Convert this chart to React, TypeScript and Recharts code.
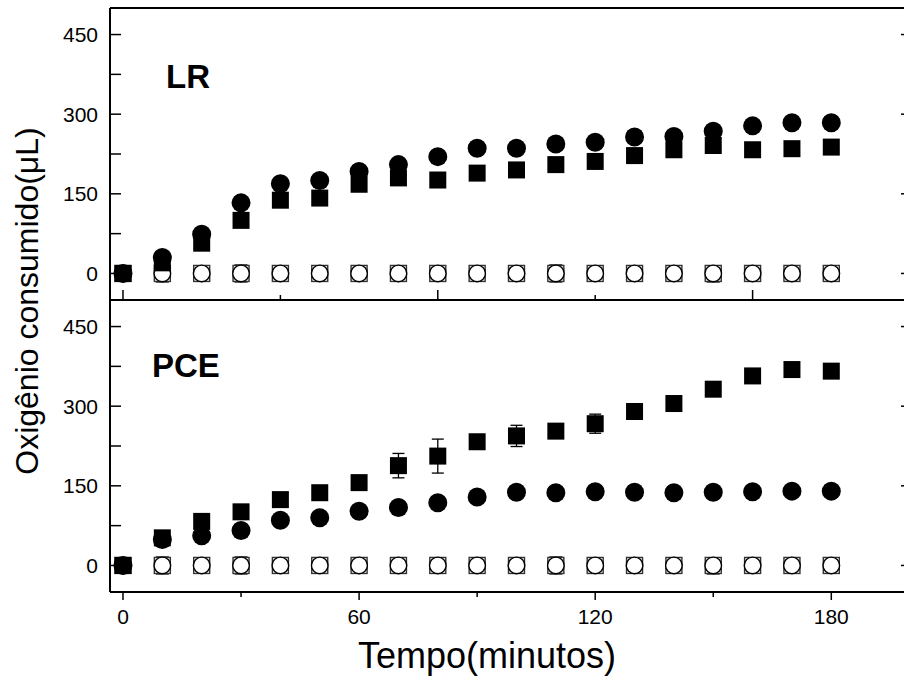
import React from "react";
import { ScatterChart, Scatter, XAxis, YAxis, ErrorBar } from "recharts";

// time points (minutes)
const times = [0, 10, 20, 30, 40, 50, 60, 70, 80, 90, 100, 110, 120, 130, 140, 150, 160, 170, 180];

// LR panel
const lrCircle = [0, 30, 74, 133, 169, 175, 192, 205, 220, 236, 236, 244, 247, 257, 258, 268, 278, 284, 284];
const lrSquare = [0, 20, 57, 100, 138, 142, 168, 180, 176, 189, 195, 205, 211, 222, 233, 241, 233, 235, 238];

// PCE panel
const pceCircle = [0, 49, 56, 66, 85, 90, 102, 109, 118, 129, 138, 137, 139, 138, 137, 138, 139, 140, 140];
const pceSquare = [0, 52, 83, 101, 124, 137, 156, 188, 206, 233, 244, 253, 267, 290, 305, 332, 357, 369, 366];
const pceSquareErr = [0, 0, 0, 0, 0, 0, 0, 23, 32, 12, 20, 0, 18, 0, 0, 0, 0, 0, 0];

// controls (open symbols), same in both panels
const control = [0, 0, 0, 0, 0, 0, 0, 0, 0, 0, 0, 0, 0, 0, 0, 0, 0, 0, 0];
const controlErrUp = [0, 16, 0, 16, 0, 0, 0, 0, 0, 0, 0, 16, 0, 0, 0, 0, 0, 0, 0];
const controlErrDown = [0, 16, 0, 16, 0, 0, 0, 0, 0, 0, 0, 16, 0, 0, 0, 16, 0, 0, 0];

const yTicks = [0, 75, 150, 225, 300, 375, 450];
const yRightTicks = [0, 150, 300, 450];
const xMidTicks = [0, 40, 80, 120, 160];
const xBottomTicks = [0, 30, 60, 90, 120, 150, 180];

const X_DOMAIN: [number, number] = [-3.3, 200];
const Y_DOMAIN: [number, number] = [-50, 500];
const FONT = "'Liberation Sans', Arial, sans-serif";

const CHART_W = 920;
const TOP_H = 310;
const BOTTOM_H = 362;

type Pt = { t: number; v: number; e?: number | [number, number] };

const toPoints = (vals: number[], errs?: number[]): Pt[] =>
  times.map((t, i) => ({
    t,
    v: vals[i],
    e: errs && errs[i] ? errs[i] : undefined,
  }));

const errPoints = (errs: number[], up: boolean): Pt[] =>
  times
    .map((t, i) => ({
      t,
      v: control[i],
      e: (up ? [0, errs[i]] : [errs[i], 0]) as [number, number],
    }))
    .filter((_, i) => errs[i] > 0);

// markers
const FilledCircle = (p: any) => <circle cx={p.cx} cy={p.cy} r={9.5} fill="#000" />;
const FilledSquare = (p: any) => (
  <rect x={p.cx - 8.5} y={p.cy - 8.5} width={17} height={17} fill="#000" />
);
const OpenCircle = (p: any) => (
  <circle cx={p.cx} cy={p.cy} r={8.3} fill="#fff" stroke="#000" strokeWidth={1.4} />
);
const OpenSquare = (p: any) => (
  <rect x={p.cx - 8} y={p.cy - 8} width={16} height={16} fill="#fff" stroke="#333" strokeWidth={1.4} />
);
const NoMark = () => <g />;

// ticks
const LeftTick = (props: any) => {
  const { x, y, payload } = props;
  const ax = x + 12;
  return (
    <g>
      <line x1={ax} x2={ax + 11} y1={y} y2={y} stroke="#000" strokeWidth={1.5} />
      {payload.value % 150 === 0 && (
        <text x={x} y={y} dy="0.36em" textAnchor="end" fontSize={21} fontFamily={FONT} fill="#000">
          {payload.value}
        </text>
      )}
    </g>
  );
};

const RightTick = (props: any) => {
  const { x, y } = props;
  return <line x1={x - 9} x2={x} y1={y} y2={y} stroke="#000" strokeWidth={1.5} />;
};

const TopTick = (props: any) => {
  const { x, y, payload } = props;
  const len = payload.value % 80 === 0 ? 10 : 5;
  return <line x1={x} x2={x} y1={y} y2={y + len} stroke="#000" strokeWidth={1.5} />;
};

const MidTick = (props: any) => {
  const { x, y, payload } = props;
  const len = payload.value % 80 === 0 ? 10 : 5;
  return <line x1={x} x2={x} y1={y} y2={y - len} stroke="#000" strokeWidth={1.5} />;
};

const BottomTick = (props: any) => {
  const { x, y, payload } = props;
  const major = payload.value % 60 === 0;
  return (
    <g>
      <line x1={x} x2={x} y1={y} y2={y + (major ? 8 : 5)} stroke="#000" strokeWidth={1.5} />
      {major && (
        <text x={x} y={y + 24} dy="0.36em" textAnchor="middle" fontSize={21} fontFamily={FONT} fill="#000">
          {payload.value}
        </text>
      )}
    </g>
  );
};

const axisLine = { stroke: "#000", strokeWidth: 2 };

function Panel({
  circle,
  square,
  squareErr,
  bottom,
}: {
  circle: number[];
  square: number[];
  squareErr?: number[];
  bottom: boolean;
}) {
  return (
    <ScatterChart
      width={CHART_W}
      height={bottom ? BOTTOM_H : TOP_H}
      margin={{ top: 0, right: 0, bottom: 0, left: 0 }}
    >
      <XAxis
        xAxisId="top"
        orientation="top"
        type="number"
        domain={X_DOMAIN}
        allowDataOverflow
        ticks={xMidTicks}
        interval={0}
        height={bottom ? 10 : 8}
        axisLine={axisLine}
        tickLine={false}
        tickSize={0}
        tickMargin={0}
        tick={<TopTick />}
      />
      <XAxis
        dataKey="t"
        orientation="bottom"
        type="number"
        domain={X_DOMAIN}
        allowDataOverflow
        ticks={bottom ? xBottomTicks : xMidTicks}
        interval={0}
        height={bottom ? 60 : 10}
        axisLine={axisLine}
        tickLine={false}
        tickSize={0}
        tickMargin={0}
        tick={bottom ? <BottomTick /> : <MidTick />}
      />
      <YAxis
        dataKey="v"
        type="number"
        domain={Y_DOMAIN}
        allowDataOverflow
        ticks={yTicks}
        interval={0}
        width={110}
        axisLine={axisLine}
        tickLine={false}
        tickSize={0}
        tickMargin={12}
        tick={<LeftTick />}
      />
      <YAxis
        yAxisId="r"
        orientation="right"
        type="number"
        domain={Y_DOMAIN}
        allowDataOverflow
        ticks={yRightTicks}
        interval={0}
        width={10}
        axisLine={axisLine}
        tickLine={false}
        tickSize={0}
        tickMargin={0}
        tick={<RightTick />}
      />
      <Scatter data={toPoints(control)} shape={<OpenSquare />} isAnimationActive={false} />
      <Scatter data={toPoints(control)} shape={<OpenCircle />} isAnimationActive={false} />
      <Scatter data={errPoints(controlErrUp, true)} shape={<NoMark />} isAnimationActive={false}>
        <ErrorBar dataKey="e" direction="y" width={6.5} stroke="#000" strokeWidth={1.3} isAnimationActive={false} />
      </Scatter>
      <Scatter data={errPoints(controlErrDown, false)} shape={<NoMark />} isAnimationActive={false}>
        <ErrorBar dataKey="e" direction="y" width={6.5} stroke="#000" strokeWidth={1.3} isAnimationActive={false} />
      </Scatter>
      <Scatter data={toPoints(square, squareErr)} shape={<FilledSquare />} isAnimationActive={false}>
        {squareErr && (
          <ErrorBar dataKey="e" direction="y" width={6} stroke="#000" strokeWidth={1.3} isAnimationActive={false} />
        )}
      </Scatter>
      <Scatter data={toPoints(circle)} shape={<FilledCircle />} isAnimationActive={false} />
    </ScatterChart>
  );
}

export default function App() {
  return (
    <>
      <style>{"html,body{margin:0;padding:0;overflow:hidden;background:#fff}"}</style>
      <div
        style={{
          position: "relative",
          width: 904,
          height: 680,
          overflow: "hidden",
          background: "#fff",
        }}
      >
        <div style={{ position: "absolute", left: 0, top: 0, width: CHART_W, height: TOP_H }}>
          <Panel circle={lrCircle} square={lrSquare} bottom={false} />
        </div>
        <div style={{ position: "absolute", left: 0, top: 290, width: CHART_W, height: BOTTOM_H }}>
          <Panel circle={pceCircle} square={pceSquare} squareErr={pceSquareErr} bottom />
        </div>
        <svg
          width={904}
          height={680}
          style={{ position: "absolute", left: 0, top: 0, pointerEvents: "none" }}
        >
          <text x={166} y={88} fontSize={33} fontWeight="bold" fontFamily={FONT} fill="#000">
            LR
          </text>
          <text x={152} y={377} fontSize={33} fontWeight="bold" fontFamily={FONT} fill="#000">
            PCE
          </text>
          <text x={487} y={668} textAnchor="middle" fontSize={36} fontFamily={FONT} fill="#000">
            Tempo(minutos)
          </text>
          <text
            x={38}
            y={301}
            textAnchor="middle"
            fontSize={32}
            fontFamily={FONT}
            fill="#000"
            transform="rotate(-90 38 301)"
          >
            Oxigênio consumido(μL)
          </text>
        </svg>
      </div>
    </>
  );
}
